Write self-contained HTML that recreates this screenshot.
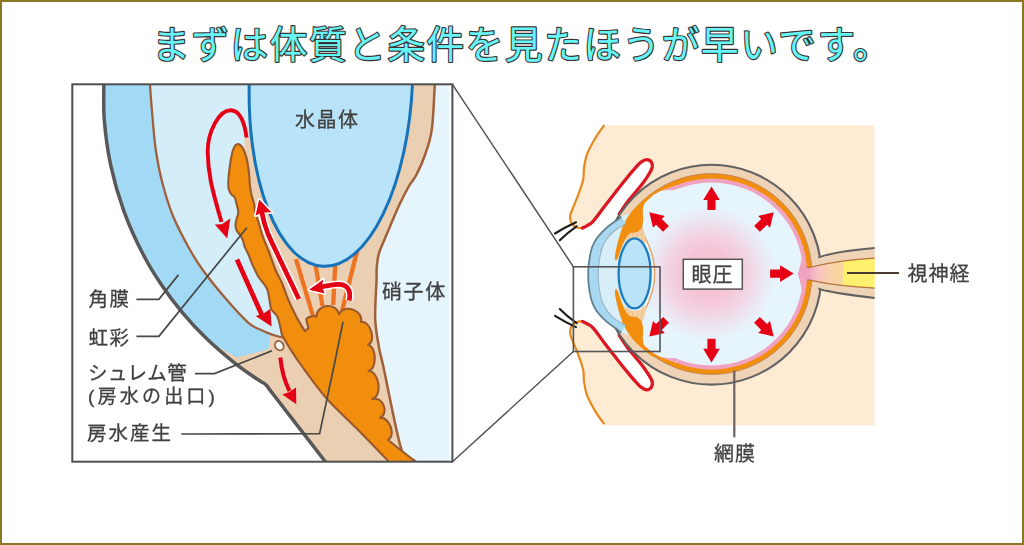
<!DOCTYPE html>
<html><head><meta charset="utf-8"><title>eye</title>
<style>
html,body{margin:0;padding:0;background:#fff;}
body{width:1024px;height:545px;overflow:hidden;font-family:"Liberation Sans",sans-serif;}
#frame{position:absolute;left:0;top:0;width:1020px;height:541px;border:2px solid #8a7920;background:#fff;}
svg{position:absolute;left:0;top:0;}
</style></head>
<body>
<div id="frame"></div>
<svg width="1024" height="545" viewBox="0 0 1024 545">
<defs><filter id="soft" x="0" y="0" width="1024" height="545" filterUnits="userSpaceOnUse"><feGaussianBlur stdDeviation="0.65"/></filter></defs><g filter="url(#soft)"><clipPath id="cpL"><rect x="72.3" y="84.3" width="376.9" height="377.4"/></clipPath>
<g clip-path="url(#cpL)">
<rect x="72.3" y="84.3" width="380.09999999999997" height="377.4" fill="#ebcfb2"/>
<path d="M104.0 74.4C104.1 81.8 103.1 103.6 104.2 118.8 C105.4 134.0 107.5 150.2 110.8 165.6 C114.1 181.0 118.5 196.3 123.9 211.1 C129.2 225.9 136.8 242.1 143.1 254.3 C149.4 266.6 154.8 275.0 161.4 284.8 C168.0 294.6 175.2 304.1 182.8 313.1 C190.4 322.2 198.0 331.7 207.0 339.1 C216.0 346.5 231.7 354.4 236.7 357.5 L268.4 349.3 L270.2 336.4 L272.0 334.6C270.2 333.8 264.9 331.9 261.0 330.0 C257.1 328.1 254.3 328.0 248.5 322.9 C242.7 317.8 233.9 308.1 226.3 299.3 C218.7 290.5 208.9 278.4 202.8 270.0 C196.7 261.6 194.5 258.0 189.5 249.0 C184.5 240.0 177.5 227.0 173.0 216.0 C168.5 205.0 165.3 194.0 162.4 183.0 C159.5 172.0 157.5 161.0 155.8 150.0 C154.2 139.0 153.5 128.0 152.5 117.0 C151.5 106.0 150.4 91.8 149.9 84.0 C149.4 76.2 149.5 72.3 149.4 70.0Z" fill="#a2d9f5"/>
<path d="M149.4 70.0C149.5 72.3 149.4 76.2 149.9 84.0 C150.4 91.8 151.5 106.0 152.5 117.0 C153.5 128.0 154.2 139.0 155.8 150.0 C157.5 161.0 159.5 172.0 162.4 183.0 C165.3 194.0 168.5 205.0 173.0 216.0 C177.5 227.0 184.5 240.0 189.5 249.0 C194.5 258.0 196.7 261.6 202.8 270.0 C208.9 278.4 218.7 290.5 226.3 299.3 C233.9 308.1 242.7 317.8 248.5 322.9 C254.3 328.0 257.1 328.1 261.0 330.0 C264.9 331.9 268.4 333.3 272.0 334.6 C275.6 335.9 280.8 337.1 282.5 337.6 L283.5 337.6 L275.0 305.0 L258.0 265.0 L246.0 230.0 L240.0 190.0 L238.0 160.0 L241.0 151.0 L244.4 146.0 L244.4 137.6 L248.6 137.3 L249.2 110.0 L249.5 84.3 L249.5 76.0Z" fill="#d3edf9"/>
<path d="M435.5 76.0C435.4 77.4 435.4 75.5 434.8 84.3 C434.2 93.1 433.5 117.0 431.9 128.8 C430.3 140.6 427.6 147.3 425.0 155.0 C422.4 162.7 419.0 169.8 416.3 175.0 C413.6 180.2 411.8 181.1 409.0 186.0 C406.2 190.9 403.3 196.4 399.6 204.3 C395.9 212.2 390.4 225.5 387.0 233.6 C383.6 241.7 380.7 247.5 379.0 253.1 C377.3 258.7 377.2 262.4 376.8 267.0 C376.4 271.6 376.8 272.4 376.5 281.0 C376.2 289.6 374.8 307.6 375.2 318.8 C375.6 330.0 377.8 340.3 379.1 348.0 C380.4 355.7 379.2 348.0 383.0 365.0 C386.8 382.0 396.4 434.1 401.6 450.0 C406.8 465.9 411.6 457.7 414.3 460.7 C417.0 463.7 417.4 466.8 418.0 468.0 L470 470 L470 70Z" fill="#e6f4fc"/>
<path d="M104.0 74.4C104.1 81.8 103.1 103.6 104.2 118.8 C105.4 134.0 107.5 150.2 110.8 165.6 C114.1 181.0 118.5 196.3 123.9 211.1 C129.2 225.9 136.8 242.1 143.1 254.3 C149.4 266.6 154.8 275.0 161.4 284.8 C168.0 294.6 175.2 304.1 182.8 313.1 C190.4 322.2 198.5 330.9 207.0 339.1 C215.5 347.3 226.1 356.2 233.8 362.4 C241.4 368.6 248.2 373.0 252.9 376.3 C257.7 379.7 260.8 381.4 262.3 382.4C263.2 382.4 265.7 384.4 267.5 386.5 C269.3 388.6 263.4 381.5 273.0 394.0 C282.6 406.5 315.7 449.2 325.4 461.7 C335.1 474.2 330.1 467.8 331.0 469.0 L60 470 L60 70Z" fill="#fff"/>
<path d="M296 259L313 316" stroke="#ee7220" stroke-width="4.3" fill="none"/>
<path d="M315.7 266L322.5 306" stroke="#ee7220" stroke-width="4.3" fill="none"/>
<path d="M335.2 266L333.2 305" stroke="#ee7220" stroke-width="4.3" fill="none"/>
<path d="M357 251.5L342 311" stroke="#ee7220" stroke-width="4.3" fill="none"/>
<ellipse cx="331" cy="79.2" rx="81.6" ry="187.3" transform="rotate(2.35 331 79.2)" fill="#b9e3f8" stroke="#1673b9" stroke-width="3.0"/>
<path d="M149.4 70.0 C149.5 72.3 149.4 76.2 149.9 84.0 C150.4 91.8 151.5 106.0 152.5 117.0 C153.5 128.0 154.2 139.0 155.8 150.0 C157.5 161.0 159.5 172.0 162.4 183.0 C165.3 194.0 168.5 205.0 173.0 216.0 C177.5 227.0 184.5 240.0 189.5 249.0 C194.5 258.0 196.7 261.6 202.8 270.0 C208.9 278.4 218.7 290.5 226.3 299.3 C233.9 308.1 242.7 317.8 248.5 322.9 C254.3 328.0 257.1 328.1 261.0 330.0 C264.9 331.9 268.4 333.3 272.0 334.6 C275.6 335.9 280.8 337.1 282.5 337.6" fill="none" stroke="#a0603a" stroke-width="2.3"/>
<path d="M435.5 76.0 C435.4 77.4 435.4 75.5 434.8 84.3 C434.2 93.1 433.5 117.0 431.9 128.8 C430.3 140.6 427.6 147.3 425.0 155.0 C422.4 162.7 419.0 169.8 416.3 175.0 C413.6 180.2 411.8 181.1 409.0 186.0 C406.2 190.9 403.3 196.4 399.6 204.3 C395.9 212.2 390.4 225.5 387.0 233.6 C383.6 241.7 380.7 247.5 379.0 253.1 C377.3 258.7 377.2 262.4 376.8 267.0 C376.4 271.6 376.8 272.4 376.5 281.0 C376.2 289.6 374.8 307.6 375.2 318.8 C375.6 330.0 377.8 340.3 379.1 348.0 C380.4 355.7 379.2 348.0 383.0 365.0 C386.8 382.0 396.4 434.1 401.6 450.0 C406.8 465.9 411.6 457.7 414.3 460.7 C417.0 463.7 417.4 466.8 418.0 468.0" fill="none" stroke="#a0603a" stroke-width="2.5"/>
<path d="M238.0 144.0C237.5 144.3 236.0 144.6 235.2 145.6 C234.4 146.6 233.7 148.1 233.0 150.0 C232.3 151.9 231.8 154.5 231.3 157.0 C230.8 159.5 230.5 161.5 230.0 165.0 C229.5 168.5 228.8 174.2 228.5 178.0 C228.2 181.8 228.1 185.3 228.5 188.0 C228.9 190.7 230.0 192.5 231.0 194.0 C232.0 195.5 233.6 195.5 234.5 197.0 C235.4 198.5 235.7 200.5 236.3 203.0 C236.9 205.5 238.3 209.2 238.3 212.0 C238.3 214.8 236.9 217.3 236.4 219.5 C235.9 221.7 235.5 223.2 235.5 225.0 C235.5 226.8 235.8 228.8 236.6 230.5 C237.4 232.2 239.3 233.7 240.4 235.4 C241.5 237.1 242.4 239.1 243.1 240.9 C243.8 242.7 243.8 244.2 244.4 246.0 C245.1 247.8 246.2 249.7 247.0 251.5 C247.8 253.3 248.8 255.2 249.5 257.0 C250.2 258.8 250.6 260.3 251.5 262.5 C252.4 264.7 253.8 267.6 255.0 270.0 C256.2 272.4 257.0 274.7 258.5 277.0 C260.0 279.3 262.5 281.8 264.0 284.0 C265.5 286.2 266.6 287.3 267.5 290.0 C268.4 292.7 268.9 296.8 269.5 300.0 C270.1 303.2 270.0 306.5 271.4 309.4 C272.8 312.3 276.0 313.3 277.8 317.6 C279.6 321.9 281.3 332.3 282.0 335.2C283.2 337.2 285.8 342.0 289.0 347.0 C292.2 352.0 294.8 356.5 301.0 365.0 C307.2 373.5 316.9 387.4 326.4 398.2 C335.8 408.9 347.3 418.9 357.7 429.5 C368.1 440.1 382.5 455.1 388.9 461.7 C395.3 468.3 394.8 467.8 396.0 469.0 L420 469 L414.3 460.7 L400.6 450 L388 440 C396.4 435.7 389.2 415.9 380.0 418.0C389.5 413.0 382.6 395.9 372.3 399.0C382.7 396.2 379.3 371.0 368.5 371.0C377.1 369.5 376.7 346.1 368.0 345.0C376.6 341.1 370.3 320.4 361.0 322.0C363.9 310.3 344.1 303.3 339.0 314.2C336.4 301.7 316.2 304.1 316.5 316.8C315.4 314.9 306.3 317.3 306.3 319.5 L308.4 328.2 L304.8 331.1 C303.3 328.6 298.7 321.2 296.0 316.0 C293.3 310.8 290.7 305.3 288.4 300.0 C286.1 294.7 284.5 289.0 282.4 284.0 C280.3 279.0 277.8 275.3 275.6 270.0 C273.4 264.7 270.9 256.9 269.0 252.0 C267.1 247.2 265.7 244.3 264.4 240.9 C263.1 237.5 262.1 234.8 261.2 231.7 C260.2 228.6 259.7 225.6 258.7 222.5 C257.7 219.4 256.2 216.4 255.4 213.3 C254.6 210.2 254.8 207.2 254.1 204.2 C253.4 201.1 252.2 198.0 251.5 195.0 C250.8 192.0 250.4 189.3 250.0 186.0 C249.6 182.7 249.6 178.8 249.2 175.0 C248.8 171.2 248.1 166.2 247.6 163.0 C247.1 159.8 246.7 158.2 246.0 156.0 C245.3 153.8 244.4 151.7 243.6 150.0 C242.8 148.3 241.9 146.6 241.0 145.6 C240.1 144.6 238.5 144.3 238.0 144.0Z" fill="#f18e0c" stroke="#99592f" stroke-width="2.1" stroke-linejoin="round"/>
<ellipse cx="279.3" cy="345.7" rx="4.1" ry="4.9" transform="rotate(-35 279.3 345.7)" fill="#fff" stroke="#a0603a" stroke-width="1.9"/>
<path d="M104.0 74.4C104.1 81.8 103.1 103.6 104.2 118.8 C105.4 134.0 107.5 150.2 110.8 165.6 C114.1 181.0 118.5 196.3 123.9 211.1 C129.2 225.9 136.8 242.1 143.1 254.3 C149.4 266.6 154.8 275.0 161.4 284.8 C168.0 294.6 175.2 304.1 182.8 313.1 C190.4 322.2 198.5 330.9 207.0 339.1 C215.5 347.3 226.1 356.2 233.8 362.4 C241.4 368.6 248.2 373.0 252.9 376.3 C257.7 379.7 260.8 381.4 262.3 382.4C263.2 382.4 265.7 384.4 267.5 386.5 C269.3 388.6 263.4 381.5 273.0 394.0 C282.6 406.5 315.7 449.2 325.4 461.7 C335.1 474.2 330.1 467.8 331.0 469.0" fill="none" stroke="#585858" stroke-width="3.5" stroke-linejoin="round"/>
<path d="M246.6 137.6 C244.5 122 239.5 110.3 230.5 110.3 C219 110.3 207.5 132 207.7 152 C208 172 211 186 221.5 222" fill="none" stroke="#e60012" stroke-width="3.9"/>
<path d="M227.2 238.5 L214.8 224.6 L221.8 224.2 L230.4 218.6Z" fill="#e60012"/>
<path d="M237 259.5 L262.2 315.8" fill="none" stroke="#e60012" stroke-width="4.7"/>
<path d="M271.6 326.6 L255.6 316 L262.5 314.2 L270.4 308.8Z" fill="#e60012"/>
<path d="M298.9 299 C291 282 279 258 268 234 C265 226 263 219 261.8 212" fill="none" stroke="#fff" stroke-width="7.8"/><path d="M259.2 199.6 L255.6 215.6 L262.3 212.6 L271.5 212.2Z" fill="#fff" stroke="#fff" stroke-width="3.2" stroke-linejoin="round"/>
<path d="M298.9 299 C291 282 279 258 268 234 C265 226 263 219 261.8 212" fill="none" stroke="#e60012" stroke-width="4.7"/><path d="M259.2 199.6 L255.6 215.6 L262.3 212.6 L271.5 212.2Z" fill="#e60012"/>
<path d="M349.2 300.5 C351.5 290 347 284 338 284.3 C332 284.5 327 285.8 321 287" fill="none" stroke="#fff" stroke-width="7.8"/><path d="M309 289.8 L323.4 279.4 L321.6 286.8 L324.8 293.4Z" fill="#fff" stroke="#fff" stroke-width="3.2" stroke-linejoin="round"/>
<path d="M349.2 300.5 C351.5 290 347 284 338 284.3 C332 284.5 327 285.8 321 287" fill="none" stroke="#e60012" stroke-width="4.7"/><path d="M309 289.8 L323.4 279.4 L321.6 286.8 L324.8 293.4Z" fill="#e60012"/>
<path d="M280.3 357.5 C281.5 370 284.5 381 289.5 391" fill="none" stroke="#e60012" stroke-width="4.0"/>
<path d="M296.3 404.2 L282.3 394.4 L289.3 392 L296 387.6Z" fill="#e60012"/>
<path d="M136.4 299.3 L158.9 299.3 L178.4 274.9" fill="none" stroke="#484848" stroke-width="1.7" />
<path d="M136.4 336.4 L158.9 336.4 L246.8 227.7" fill="none" stroke="#484848" stroke-width="1.7" />
<path d="M195.0 373.6 L214.5 373.6 L272.0 350.8" fill="none" stroke="#484848" stroke-width="1.7" />
<path d="M181.3 434.0 L319.6 433.6 L334.2 365.0 L343.0 321.8" fill="none" stroke="#484848" stroke-width="1.7" />
</g>
<rect x="72.3" y="84.3" width="380.09999999999997" height="377.4" fill="none" stroke="#505050" stroke-width="2.0"/>
<path d="M604.3 125.2C602.9 127.2 598.9 132.2 596.0 137.0 C593.1 141.8 589.1 148.8 587.1 154.0 C585.1 159.2 584.6 163.8 584.0 168.0 C583.4 172.2 584.1 175.2 583.2 179.5 C582.3 183.8 580.1 189.4 578.5 194.0 C576.9 198.6 574.8 203.3 573.4 206.8 C572.0 210.3 570.8 212.6 570.3 215.0 C569.8 217.4 570.1 219.2 570.6 221.0 C571.1 222.8 572.3 224.4 573.5 225.5 C574.7 226.6 576.5 227.4 578.0 227.8 C579.5 228.2 581.8 228.0 582.5 228.0 L582.5 321.4C581.8 321.4 579.5 321.2 578.0 321.6 C576.5 322.0 574.7 322.8 573.5 323.9 C572.3 325.0 571.1 326.6 570.6 328.4 C570.1 330.1 569.8 332.0 570.3 334.4 C570.8 336.8 572.0 339.1 573.4 342.6 C574.8 346.1 576.9 350.8 578.5 355.4 C580.1 359.9 582.3 365.6 583.2 369.9 C584.1 374.2 583.4 377.1 584.0 381.4 C584.6 385.6 585.1 390.2 587.1 395.4 C589.1 400.6 593.1 407.6 596.0 412.4 C598.9 417.2 602.9 422.2 604.3 424.2 L604.8 425.2 L874.6 425.2 L874.6 125.2Z" fill="#fdebd3"/>
<path d="M582.5 228.0C583.2 227.6 585.0 226.9 586.8 225.8 C588.5 224.7 590.0 224.8 593.0 221.5 C596.0 218.2 600.7 211.2 604.6 206.2 C608.5 201.1 612.6 195.9 616.3 191.2 C620.0 186.5 623.6 181.9 626.8 178.0 C630.0 174.1 633.2 170.3 635.6 167.7 C638.0 165.1 639.1 163.5 641.0 162.2 C642.9 160.8 645.1 159.6 646.8 159.6 C648.5 159.6 650.4 160.7 651.3 162.0 C652.2 163.3 652.7 165.5 652.2 167.7 C651.7 169.9 650.0 172.4 648.4 175.0 C646.8 177.6 644.8 180.5 642.6 183.4 C640.4 186.3 637.7 189.5 635.2 192.5 C632.7 195.5 630.2 198.3 627.8 201.5 C625.4 204.7 622.2 209.6 620.8 211.7 C619.4 213.8 619.5 213.6 619.2 214.0 L619.2 335.4C619.5 335.8 619.4 335.6 620.8 337.7 C622.2 339.8 625.4 344.7 627.8 347.9 C630.2 351.1 632.7 353.9 635.2 356.9 C637.7 359.9 640.4 363.1 642.6 366.0 C644.8 368.9 646.8 371.8 648.4 374.4 C650.0 377.0 651.7 379.5 652.2 381.7 C652.7 383.9 652.2 386.0 651.3 387.4 C650.4 388.8 648.5 389.8 646.8 389.8 C645.1 389.8 642.9 388.5 641.0 387.2 C639.1 385.9 638.0 384.3 635.6 381.7 C633.2 379.1 630.0 375.3 626.8 371.4 C623.6 367.5 620.0 362.9 616.3 358.2 C612.6 353.5 608.5 348.2 604.6 343.2 C600.7 338.1 596.0 331.2 593.0 327.9 C590.0 324.6 588.5 324.7 586.8 323.6 C585.0 322.5 583.2 321.8 582.5 321.4 L560 300 L560 250Z" fill="#fff"/>
<g><path d="M604.3 125.2C602.9 127.2 598.9 132.2 596.0 137.0 C593.1 141.8 589.1 148.8 587.1 154.0 C585.1 159.2 584.6 163.8 584.0 168.0 C583.4 172.2 584.1 175.2 583.2 179.5 C582.3 183.8 580.1 189.4 578.5 194.0 C576.9 198.6 574.8 203.3 573.4 206.8 C572.0 210.3 570.8 212.6 570.3 215.0 C569.8 217.4 570.1 219.2 570.6 221.0 C571.1 222.8 572.3 224.4 573.5 225.5 C574.7 226.6 576.5 227.4 578.0 227.8 C579.5 228.2 581.8 228.0 582.5 228.0" fill="none" stroke="#e6881f" stroke-width="2.2"/><path d="M582.5 228C583.2 227.6 585.0 226.9 586.8 225.8 C588.5 224.7 590.0 224.8 593.0 221.5 C596.0 218.2 600.7 211.2 604.6 206.2 C608.5 201.1 612.6 195.9 616.3 191.2 C620.0 186.5 623.6 181.9 626.8 178.0 C630.0 174.1 633.2 170.3 635.6 167.7 C638.0 165.1 639.1 163.5 641.0 162.2 C642.9 160.8 645.1 159.6 646.8 159.6 C648.5 159.6 650.4 160.7 651.3 162.0 C652.2 163.3 652.7 165.5 652.2 167.7 C651.7 169.9 650.0 172.4 648.4 175.0 C646.8 177.6 644.8 180.5 642.6 183.4 C640.4 186.3 637.7 189.5 635.2 192.5 C632.7 195.5 630.2 198.3 627.8 201.5 C625.4 204.7 622.2 209.6 620.8 211.7 C619.4 213.8 619.5 213.6 619.2 214.0" fill="none" stroke="#dc1620" stroke-width="3.3" stroke-linecap="round"/><path d="M576 222.3 C569 225.5 561.5 229.5 555 233.5 M576.6 226.3 C570.5 230.5 564.5 235.5 559.8 240.3" fill="none" stroke="#1e1e1e" stroke-width="2.1" stroke-linecap="round"/></g><g transform="matrix(1 0 0 -1 0 549.4)"><path d="M604.3 125.2C602.9 127.2 598.9 132.2 596.0 137.0 C593.1 141.8 589.1 148.8 587.1 154.0 C585.1 159.2 584.6 163.8 584.0 168.0 C583.4 172.2 584.1 175.2 583.2 179.5 C582.3 183.8 580.1 189.4 578.5 194.0 C576.9 198.6 574.8 203.3 573.4 206.8 C572.0 210.3 570.8 212.6 570.3 215.0 C569.8 217.4 570.1 219.2 570.6 221.0 C571.1 222.8 572.3 224.4 573.5 225.5 C574.7 226.6 576.5 227.4 578.0 227.8 C579.5 228.2 581.8 228.0 582.5 228.0" fill="none" stroke="#e6881f" stroke-width="2.2"/><path d="M582.5 228C583.2 227.6 585.0 226.9 586.8 225.8 C588.5 224.7 590.0 224.8 593.0 221.5 C596.0 218.2 600.7 211.2 604.6 206.2 C608.5 201.1 612.6 195.9 616.3 191.2 C620.0 186.5 623.6 181.9 626.8 178.0 C630.0 174.1 633.2 170.3 635.6 167.7 C638.0 165.1 639.1 163.5 641.0 162.2 C642.9 160.8 645.1 159.6 646.8 159.6 C648.5 159.6 650.4 160.7 651.3 162.0 C652.2 163.3 652.7 165.5 652.2 167.7 C651.7 169.9 650.0 172.4 648.4 175.0 C646.8 177.6 644.8 180.5 642.6 183.4 C640.4 186.3 637.7 189.5 635.2 192.5 C632.7 195.5 630.2 198.3 627.8 201.5 C625.4 204.7 622.2 209.6 620.8 211.7 C619.4 213.8 619.5 213.6 619.2 214.0" fill="none" stroke="#dc1620" stroke-width="3.3" stroke-linecap="round"/><path d="M576 222.3 C569 225.5 561.5 229.5 555 233.5 M576.6 226.3 C570.5 230.5 564.5 235.5 559.8 240.3" fill="none" stroke="#1e1e1e" stroke-width="2.1" stroke-linecap="round"/></g>
<circle cx="711.5" cy="274.7" r="109.9" fill="#eed3b6" stroke="#626262" stroke-width="2.1"/>
<path d="M819.3 257.3 C826 254.6 841.6 251 874.6 248 L882 247.6 L882 298.3 L874.6 297.9 C841.6 294 826 291.4 819.3 288.7Z" fill="#eed3b6" stroke="#626262" stroke-width="2.0"/>
<path d="M816.5 259.1 L826.5 255.9 L826.5 290.1 L816.5 286.9Z" fill="#eed3b6"/>
<defs><linearGradient id="ng" x1="800" x2="874.6" y1="0" y2="0" gradientUnits="userSpaceOnUse"><stop offset="0.1" stop-color="#f0a3c0"/><stop offset="0.22" stop-color="#f6c0c4"/><stop offset="0.42" stop-color="#f8d3a8"/><stop offset="0.58" stop-color="#f8d79c"/><stop offset="0.585" stop-color="#fff06e"/><stop offset="1" stop-color="#fff06e"/></linearGradient>
<radialGradient id="pg" cx="708.0" cy="273.7" r="68" gradientUnits="userSpaceOnUse"><stop offset="0" stop-color="#f5bcd0"/><stop offset="0.35" stop-color="#f5c3d6"/><stop offset="0.6" stop-color="#f2d4e3"/><stop offset="0.8" stop-color="#ece6f1"/><stop offset="1" stop-color="#e6f4fc"/></radialGradient></defs>
<circle cx="711.5" cy="274.0" r="100.4" fill="#f18e0c" stroke="#c2875a" stroke-width="1"/>
<path d="M711.5 274.0 L653.8 353.4 A98.2 98.2 0 0 1 653.8 194.6Z" fill="#e6f4fc"/>
<path d="M711.5 274.0 L675.7 185.5 A95.5 95.5 0 1 1 675.7 362.5Z" fill="#f0a3c0"/>
<path d="M682.2 199.6 L676.5 185.1 L672.7 186.8 L666.2 188.9 L660.7 191.1 L653.1 195.1 L663.9 209.7Z" fill="#e6f4fc"/>
<path d="M678.1 189.3 L676.5 185.1 L672.7 186.8 L666.2 188.9 L660.7 191.1 L668.6 189.9 L675.8 189.9Z" fill="#f0a3c0"/>
<path d="M682.2 348.4 L676.5 362.9 L672.7 361.2 L666.2 359.1 L660.7 356.9 L653.1 352.9 L663.9 338.3Z" fill="#e6f4fc"/>
<path d="M678.1 358.7 L676.5 362.9 L672.7 361.2 L666.2 359.1 L660.7 356.9 L668.6 358.1 L675.8 358.1Z" fill="#f0a3c0"/>
<circle cx="711.5" cy="274.0" r="91.6" fill="url(#pg)"/>
<path d="M805.5 268.2 C818 266 830 261 874.6 258.2 L882 258 L882 288.3 L874.6 288.1 C830 286 818 281.6 805.5 279.4Z" fill="url(#ng)" stroke="#b5703a" stroke-width="1.2"/>
<path d="M801.6 258 C802.4 265 804.5 268.2 809 268.3 L809 279.3 C804.5 279.4 802.4 283 801.6 290 C800.4 283 799.4 277.6 797.6 273.8 C799.4 270 800.4 265 801.6 258Z" fill="#f0a3c0"/>
<rect x="874.7" y="240" width="12" height="66" fill="#fff"/>
<path d="M621.2 216.6C620.6 217.1 619.5 218.4 617.6 219.8 C615.7 221.2 612.5 223.1 610.0 225.0 C607.5 226.9 605.0 229.1 602.8 231.3 C600.6 233.6 598.4 235.9 596.6 238.5 C594.8 241.1 593.4 243.8 592.2 247.0 C591.0 250.2 590.2 254.5 589.6 258.0 C589.0 261.5 588.6 265.2 588.4 268.0 C588.2 270.8 588.2 272.5 588.2 274.7 C588.2 276.9 588.2 278.6 588.4 281.4 C588.6 284.2 589.0 287.9 589.6 291.4 C590.2 294.9 591.0 299.1 592.2 302.4 C593.4 305.6 594.8 308.3 596.6 310.9 C598.4 313.5 600.6 315.8 602.8 318.1 C605.0 320.3 607.5 322.5 610.0 324.4 C612.5 326.3 615.7 328.2 617.6 329.6 C619.5 331.0 620.6 332.3 621.2 332.8 L641.5 338.0C641.3 335.8 640.2 329.0 640.5 325.0 C640.8 321.0 642.1 318.0 643.5 314.0 C644.9 310.0 647.4 305.3 649.0 301.0 C650.6 296.7 652.2 292.6 653.2 288.0 C654.2 283.4 654.7 278.2 654.7 273.4 C654.7 268.6 654.2 263.6 653.2 259.0 C652.2 254.4 650.6 250.3 649.0 246.0 C647.4 241.7 644.9 237.0 643.5 233.0 C642.1 229.0 640.8 226.0 640.5 222.0 C640.2 218.0 641.3 211.2 641.5 209.0Z" fill="#d8eef8"/>
<path d="M641.5 209.0C641.3 211.2 640.2 218.0 640.5 222.0 C640.8 226.0 642.1 229.0 643.5 233.0 C644.9 237.0 647.4 241.7 649.0 246.0 C650.6 250.3 652.2 254.4 653.2 259.0 C654.2 263.6 654.7 268.6 654.7 273.4 C654.7 278.2 654.2 283.4 653.2 288.0 C652.2 292.6 650.6 296.7 649.0 301.0 C647.4 305.3 644.9 310.0 643.5 314.0 C642.1 318.0 640.8 321.0 640.5 325.0 C640.2 329.0 641.3 335.8 641.5 338.0 L636 330 L636 220Z" fill="#edf6fb"/>
<path d="M640.5 222C641.0 223.8 642.1 229.0 643.5 233.0 C644.9 237.0 647.4 241.7 649.0 246.0 C650.6 250.3 652.2 254.4 653.2 259.0 C654.2 263.6 654.7 268.6 654.7 273.4 C654.7 278.2 654.2 283.4 653.2 288.0 C652.2 292.6 650.6 296.7 649.0 301.0 C647.4 305.3 644.9 310.0 643.5 314.0 C642.1 318.0 641.0 323.2 640.5 325.0" fill="none" stroke="#e5a467" stroke-width="1.4"/>
<g><path d="M626.2 237.5 L630 232.5 L639 231 L642.8 228 L645.2 236 L646.5 244.5 L641.5 240.6 L634.6 238.2 L628.5 240.2 L624.4 244.5Z" fill="#f3d2a8"/><path d="M629 232 L627.5 243" stroke="#f3c089" stroke-width="1.2" fill="none"/><path d="M633 231.5 L632 238.5" stroke="#f3c089" stroke-width="1.2" fill="none"/><path d="M637 230 L637.5 239" stroke="#f3c089" stroke-width="1.2" fill="none"/><path d="M640.5 227 L643.5 243" stroke="#f3c089" stroke-width="1.2" fill="none"/><path d="M653.5 192.5 C654.7 192.1 652.7 195.0 651.2 196.8 C649.7 198.6 645.9 201.1 644.5 203.5 C643.1 205.9 643.0 208.4 642.8 211.0 C642.6 213.6 643.3 216.4 643.2 218.9 C643.1 221.4 642.9 224.0 642.2 226.0 C641.5 228.0 640.3 229.9 639.0 231.0 C637.7 232.1 636.0 232.2 634.5 232.6 C633.0 233.0 631.3 232.5 630.0 233.2 C628.7 233.9 627.7 235.3 626.6 237.0 C625.5 238.7 624.3 241.2 623.3 243.5 C622.3 245.8 621.2 248.8 620.4 251.0 C619.6 253.2 619.1 255.4 618.4 257.0 C617.6 258.6 616.5 260.7 615.9 260.6 C615.3 260.5 614.8 258.6 614.9 256.5 C615.0 254.4 615.8 250.9 616.4 248.0 C617.0 245.1 617.8 241.8 618.6 239.0 C619.4 236.2 620.3 233.6 621.2 231.0 C622.1 228.4 622.2 226.6 624.0 223.3 C625.8 220.0 628.7 215.2 632.0 211.2 C635.3 207.2 640.4 202.6 644.0 199.5 C647.6 196.4 652.3 192.9 653.5 192.5Z" fill="#f18e0c"/></g><g transform="matrix(1 0 0 -1 0 549.4)"><path d="M626.2 237.5 L630 232.5 L639 231 L642.8 228 L645.2 236 L646.5 244.5 L641.5 240.6 L634.6 238.2 L628.5 240.2 L624.4 244.5Z" fill="#f3d2a8"/><path d="M629 232 L627.5 243" stroke="#f3c089" stroke-width="1.2" fill="none"/><path d="M633 231.5 L632 238.5" stroke="#f3c089" stroke-width="1.2" fill="none"/><path d="M637 230 L637.5 239" stroke="#f3c089" stroke-width="1.2" fill="none"/><path d="M640.5 227 L643.5 243" stroke="#f3c089" stroke-width="1.2" fill="none"/><path d="M653.5 192.5 C654.7 192.1 652.7 195.0 651.2 196.8 C649.7 198.6 645.9 201.1 644.5 203.5 C643.1 205.9 643.0 208.4 642.8 211.0 C642.6 213.6 643.3 216.4 643.2 218.9 C643.1 221.4 642.9 224.0 642.2 226.0 C641.5 228.0 640.3 229.9 639.0 231.0 C637.7 232.1 636.0 232.2 634.5 232.6 C633.0 233.0 631.3 232.5 630.0 233.2 C628.7 233.9 627.7 235.3 626.6 237.0 C625.5 238.7 624.3 241.2 623.3 243.5 C622.3 245.8 621.2 248.8 620.4 251.0 C619.6 253.2 619.1 255.4 618.4 257.0 C617.6 258.6 616.5 260.7 615.9 260.6 C615.3 260.5 614.8 258.6 614.9 256.5 C615.0 254.4 615.8 250.9 616.4 248.0 C617.0 245.1 617.8 241.8 618.6 239.0 C619.4 236.2 620.3 233.6 621.2 231.0 C622.1 228.4 622.2 226.6 624.0 223.3 C625.8 220.0 628.7 215.2 632.0 211.2 C635.3 207.2 640.4 202.6 644.0 199.5 C647.6 196.4 652.3 192.9 653.5 192.5Z" fill="#f18e0c"/></g>
<ellipse cx="634.6" cy="273.4" rx="16.0" ry="35.0" fill="#b9e3f8" stroke="#1c7cc2" stroke-width="2.3"/>
<path d="M621.2 216.6C620.6 217.1 619.5 218.4 617.6 219.8 C615.7 221.2 612.5 223.1 610.0 225.0 C607.5 226.9 605.0 229.1 602.8 231.3 C600.6 233.6 598.4 235.9 596.6 238.5 C594.8 241.1 593.4 243.8 592.2 247.0 C591.0 250.2 590.2 254.5 589.6 258.0 C589.0 261.5 588.6 265.2 588.4 268.0 C588.2 270.8 588.2 272.5 588.2 274.7 C588.2 276.9 588.2 278.6 588.4 281.4 C588.6 284.2 589.0 287.9 589.6 291.4 C590.2 294.9 591.0 299.1 592.2 302.4 C593.4 305.6 594.8 308.3 596.6 310.9 C598.4 313.5 600.6 315.8 602.8 318.1 C605.0 320.3 607.5 322.5 610.0 324.4 C612.5 326.3 615.7 328.2 617.6 329.6 C619.5 331.0 620.6 332.3 621.2 332.8 L625.6 325.4C624.4 324.7 620.8 322.9 618.5 321.4 C616.2 319.9 613.9 318.1 612.0 316.4 C610.1 314.6 608.8 313.2 607.2 310.9 C605.6 308.6 603.8 305.6 602.5 302.4 C601.2 299.1 600.4 294.9 599.7 291.4 C599.0 287.9 598.8 284.2 598.5 281.4 C598.2 278.6 598.2 276.9 598.2 274.7 C598.2 272.5 598.2 270.8 598.5 268.0 C598.8 265.2 599.0 261.5 599.7 258.0 C600.4 254.5 601.2 250.2 602.5 247.0 C603.8 243.8 605.6 240.8 607.2 238.5 C608.8 236.2 610.1 234.8 612.0 233.0 C613.9 231.2 616.2 229.5 618.5 228.0 C620.8 226.5 624.4 224.7 625.6 224.0Z" fill="#a9d8f2"/>
<path d="M621.2 216.6C620.6 217.1 619.5 218.4 617.6 219.8 C615.7 221.2 612.5 223.1 610.0 225.0 C607.5 226.9 605.0 229.1 602.8 231.3 C600.6 233.6 598.4 235.9 596.6 238.5 C594.8 241.1 593.4 243.8 592.2 247.0 C591.0 250.2 590.2 254.5 589.6 258.0 C589.0 261.5 588.6 265.2 588.4 268.0 C588.2 270.8 588.2 272.5 588.2 274.7 C588.2 276.9 588.2 278.6 588.4 281.4 C588.6 284.2 589.0 287.9 589.6 291.4 C590.2 294.9 591.0 299.1 592.2 302.4 C593.4 305.6 594.8 308.3 596.6 310.9 C598.4 313.5 600.6 315.8 602.8 318.1 C605.0 320.3 607.5 322.5 610.0 324.4 C612.5 326.3 615.7 328.2 617.6 329.6 C619.5 331.0 620.6 332.3 621.2 332.8" fill="none" stroke="#64808f" stroke-width="1.8"/>
<path d="M625.6 224.0C624.4 224.7 620.8 226.5 618.5 228.0 C616.2 229.5 613.9 231.2 612.0 233.0 C610.1 234.8 608.8 236.2 607.2 238.5 C605.6 240.8 603.8 243.8 602.5 247.0 C601.2 250.2 600.4 254.5 599.7 258.0 C599.0 261.5 598.8 265.2 598.5 268.0 C598.2 270.8 598.2 272.5 598.2 274.7 C598.2 276.9 598.2 278.6 598.5 281.4 C598.8 284.2 599.0 287.9 599.7 291.4 C600.4 294.9 601.2 299.1 602.5 302.4 C603.8 305.6 605.6 308.6 607.2 310.9 C608.8 313.2 610.1 314.6 612.0 316.4 C613.9 318.1 616.2 319.9 618.5 321.4 C620.8 322.9 624.4 324.7 625.6 325.4" fill="none" stroke="#9bb2c0" stroke-width="1.1"/>
<path d="M711.5 186.4 L703.2 200.0 L707.4 200.0 L707.4 210.0 L715.6 210.0 L715.6 200.0 L719.8 200.0Z" fill="#e60012"/>
<path d="M711.5 362.4 L719.8 348.8 L715.6 348.8 L715.6 338.8 L707.4 338.8 L707.4 348.8 L703.2 348.8Z" fill="#e60012"/>
<path d="M649.3 212.2 L653.0 227.7 L656.0 224.7 L663.1 231.8 L668.9 226.0 L661.8 218.9 L664.8 215.9Z" fill="#e60012"/>
<path d="M773.7 212.2 L758.2 215.9 L761.2 218.9 L754.1 226.0 L759.9 231.8 L767.0 224.7 L770.0 227.7Z" fill="#e60012"/>
<path d="M773.7 336.6 L770.0 321.1 L767.0 324.1 L759.9 317.0 L754.1 322.8 L761.2 329.9 L758.2 332.9Z" fill="#e60012"/>
<path d="M649.3 336.6 L664.8 332.9 L661.8 329.9 L668.9 322.8 L663.1 317.0 L656.0 324.1 L653.0 321.1Z" fill="#e60012"/>
<path d="M793.7 273.6 L780.1 265.3 L780.1 269.5 L770.1 269.5 L770.1 277.7 L780.1 277.7 L780.1 281.9Z" fill="#e60012"/>
<rect x="683.3" y="259.3" width="59" height="29.8" fill="#fff" stroke="#555" stroke-width="1.5"/>
<rect x="573.4" y="266.8" width="86.6" height="84.7" fill="none" stroke="#555" stroke-width="1.6"/>
<path d="M452.4 84.3 L573.4 266.8" fill="none" stroke="#505050" stroke-width="1.45" />
<path d="M452.4 461.7 L573.4 351.5" fill="none" stroke="#505050" stroke-width="1.45" />
<path d="M847.0 273.1 L899.0 273.1" fill="none" stroke="#4a3a30" stroke-width="2.0" />
<path d="M734.3 370.5 L734.3 437.3" fill="none" stroke="#6c6060" stroke-width="2.2" />
<g font-family="&quot;Liberation Sans&quot;, &quot;Noto Sans CJK JP&quot;, sans-serif" fill="#404040" stroke="#404040" stroke-width="0.3" stroke-linejoin="round">
<text x="295" y="126.7" font-size="20" letter-spacing="1.5">水晶体</text>
<text x="382" y="299" font-size="20" letter-spacing="1.6">硝子体</text>
<text x="88.5" y="306" font-size="19.5" letter-spacing="1.5">角膜</text>
<text x="88.5" y="345" font-size="19.5" letter-spacing="1.5">虹彩</text>
<text x="88" y="380" font-size="19.5" letter-spacing="0.5">シュレム管</text>
<text x="88" y="402.7" font-size="19" letter-spacing="3.2">(房水の出口)</text>
<text x="87" y="440" font-size="19.5" letter-spacing="2">房水産生</text>
<text x="691.5" y="281.7" font-size="20" letter-spacing="1">眼圧</text>
<text x="907.5" y="280.5" font-size="20" letter-spacing="1">視神経</text>
<text x="714" y="461" font-size="20" letter-spacing="1">網膜</text>
</g>
</g>
<text x="152.2" y="57.7" font-family="&quot;Liberation Sans&quot;, &quot;Noto Sans CJK JP&quot;, sans-serif" font-size="37.5" letter-spacing="1.7" fill="#66f6f8" stroke="#3a3333" stroke-width="2.3" stroke-linejoin="round" paint-order="stroke">まずは体質と条件を見たほうが早いです。</text>
</svg>
</body></html>
